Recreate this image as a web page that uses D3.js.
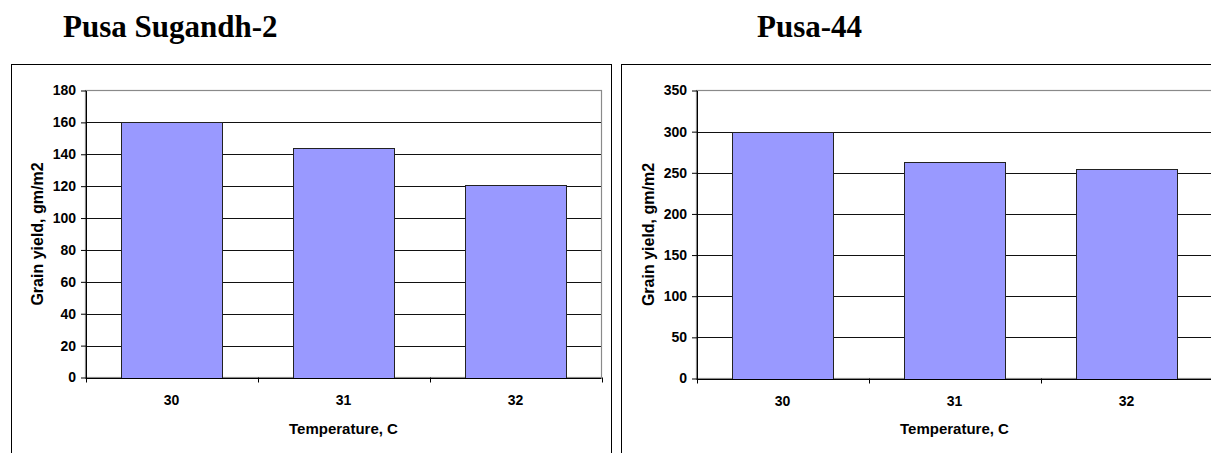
<!DOCTYPE html>
<html>
<head>
<meta charset="utf-8">
<script src="https://cdn.jsdelivr.net/npm/d3@7"></script>
<style>
  body { margin: 0; background: #fff; }
  svg { display: block; }
  .tick text { font-family: "Liberation Sans", Arial, sans-serif; font-weight: bold; font-size: 14px; fill: #000; }
  .axis-title { font-family: "Liberation Sans", Arial, sans-serif; font-weight: bold; font-size: 15px; fill: #000; }
  .chart-title { font-family: "Liberation Serif", "Times New Roman", serif; font-weight: bold; font-size: 31px; fill: #000; }
</style>
</head>
<body>
<svg id="chart" width="1211" height="453"></svg>
<script>
// data
const categories = ['30', '31', '32']
const sugandhYield = [160, 144, 121]
const pusa44Yield = [300, 263, 255]
const sugandhTicks = [0, 20, 40, 60, 80, 100, 120, 140, 160, 180]
const pusa44Ticks = [0, 50, 100, 150, 200, 250, 300, 350]

const svg = d3.select('#chart')

const panelW = 600,
  plotW = 516

function drawPanel(opts) {
  const g = svg.append('g')

  // outer chart frame
  g.append('rect')
    .attr('x', opts.frameX + 0.5)
    .attr('y', 64.5)
    .attr('width', panelW)
    .attr('height', 420)
    .attr('fill', 'none')
    .attr('stroke', '#000')
    .attr('stroke-width', 1)

  // title above frame
  g.append('text')
    .attr('class', 'chart-title')
    .attr('x', opts.titleX)
    .attr('y', 37)
    .text(opts.title)

  const left = opts.plotX, top = 90.5, bottom = opts.bottom

  const x = d3.scaleBand()
    .domain(categories)
    .range([left, left + plotW])
    .paddingInner(0.412)
    .paddingOuter(0.206)

  const y = d3.scaleLinear()
    .domain([0, d3.max(opts.ticks)])
    .range([bottom, top])

  // gridlines
  g.append('g')
    .selectAll('line')
    .data(opts.ticks.slice(1, -1))
    .join('line')
    .attr('x1', left)
    .attr('x2', left + plotW)
    .attr('y1', d => Math.round(y(d)) + 0.5)
    .attr('y2', d => Math.round(y(d)) + 0.5)
    .attr('stroke', '#111')
    .attr('stroke-width', 1)

  // plot area border (gray)
  g.append('rect')
    .attr('x', left)
    .attr('y', top)
    .attr('width', plotW)
    .attr('height', bottom - top)
    .attr('fill', 'none')
    .attr('stroke', '#8a8a8a')
    .attr('stroke-width', 1.2)

  // bars
  g.append('g')
    .selectAll('rect')
    .data(opts.values)
    .join('rect')
    .attr('x', (d, i) => Math.round(x(categories[i])) + 0.5)
    .attr('y', d => Math.round(y(d)) + 0.5)
    .attr('width', Math.round(x.bandwidth()))
    .attr('height', d => Math.round(y(0)) - Math.round(y(d)))
    .attr('fill', '#9999ff')
    .attr('stroke', '#222')
    .attr('stroke-width', 1)

  // y axis
  const yAxis = g.append('g')
    .attr('transform', `translate(${left + 0.5},0)`)
    .call(d3.axisLeft(y).tickValues(opts.ticks).tickSize(5).tickSizeOuter(0).tickPadding(5))
  yAxis.select('.domain').attr('stroke', '#000')
  yAxis.selectAll('.tick line').attr('stroke', '#000')

  // x axis labels
  const xAxis = g.append('g')
    .attr('transform', `translate(0,${bottom})`)
    .call(d3.axisBottom(x).tickSize(0).tickPadding(18))
  xAxis.select('.domain').remove()

  // x axis line and category boundary ticks
  g.append('line')
    .attr('x1', left)
    .attr('x2', left + plotW)
    .attr('y1', Math.round(bottom) + 0.5)
    .attr('y2', Math.round(bottom) + 0.5)
    .attr('stroke', '#000')
  g.append('g')
    .selectAll('line')
    .data(d3.range(categories.length + 1))
    .join('line')
    .attr('x1', i => Math.round(left + i * x.step()) + 0.5)
    .attr('x2', i => Math.round(left + i * x.step()) + 0.5)
    .attr('y1', bottom)
    .attr('y2', bottom + 5)
    .attr('stroke', '#000')

  // axis titles
  g.append('text')
    .attr('class', 'axis-title')
    .attr('x', left + plotW / 2)
    .attr('y', 434)
    .attr('text-anchor', 'middle')
    .text('Temperature, C')

  g.append('text')
    .attr('class', 'axis-title')
    .attr('transform', `translate(${left - 43},${(top + bottom) / 2}) rotate(-90)`)
    .attr('text-anchor', 'middle')
    .style('font-size', '16px')
    .text('Grain yield, gm/m2')
}

drawPanel({
  frameX: 11, titleX: 63, title: 'Pusa Sugandh-2',
  plotX: 85.5, bottom: 377.5,
  values: sugandhYield, ticks: sugandhTicks
})

drawPanel({
  frameX: 621, titleX: 757, title: 'Pusa-44',
  plotX: 696.5, bottom: 378.5,
  values: pusa44Yield, ticks: pusa44Ticks
})
</script>
</body>
</html>
